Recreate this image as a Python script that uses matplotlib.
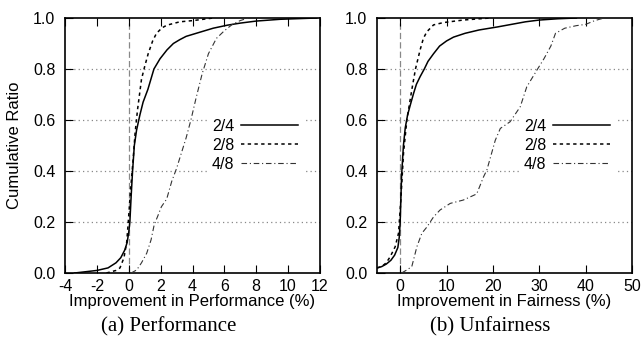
import matplotlib
matplotlib.use("Agg")
import matplotlib.pyplot as plt

plt.rcParams['font.family'] = ['Liberation Sans', 'DejaVu Sans']
plt.rcParams['axes.unicode_minus'] = False

# (a) Performance -- CDF points
perf_24_x = [-3.4, -2.0, -1.3, -0.8, -0.5, -0.25, -0.1, 0.0, 0.07, 0.15, 0.24, 0.35, 0.49, 0.7, 0.9, 1.2, 1.58, 1.96, 2.4, 2.8, 3.2, 3.6, 4.5, 5.3, 6.2, 7.0, 8.0, 9.5, 11.8]
perf_24_y = [0.0, 0.01, 0.02, 0.04, 0.06, 0.09, 0.12, 0.16, 0.2, 0.3, 0.4, 0.5, 0.56, 0.62, 0.67, 0.72, 0.8, 0.84, 0.875, 0.9, 0.915, 0.928, 0.945, 0.96, 0.972, 0.98, 0.988, 0.995, 1.0]
perf_28_x = [-1.4, -0.8, -0.55, -0.3, -0.13, -0.03, 0.12, 0.28, 0.4, 0.55, 0.8, 1.0, 1.22, 1.5, 1.74, 2.1, 2.4, 3.2, 4.05, 5.3]
perf_28_y = [0.0, 0.01, 0.02, 0.06, 0.12, 0.2, 0.33, 0.45, 0.55, 0.64, 0.76, 0.81, 0.86, 0.91, 0.94, 0.962, 0.972, 0.985, 0.99, 1.0]
perf_48_x = [0.15, 0.5, 0.8, 1.13, 1.4, 1.6, 1.8, 2.05, 2.38, 2.7, 3.0, 3.3, 3.6, 3.9, 4.2, 4.6, 5.0, 5.5, 6.0, 6.5, 7.0, 7.5]
perf_48_y = [0.0, 0.012, 0.04, 0.078, 0.13, 0.19, 0.22, 0.26, 0.29, 0.36, 0.41, 0.47, 0.53, 0.6, 0.68, 0.78, 0.86, 0.92, 0.95, 0.975, 0.99, 1.0]

# (b) Unfairness
fair_24_x = [-5.0, -4.0, -3.0, -2.0, -1.2, -0.5, -0.2, 0.0, 0.3, 0.7, 1.1, 1.6, 2.2, 2.9, 3.5, 4.3, 5.2, 6.0, 7.2, 8.5, 10.0, 11.5, 14.0, 17.0, 21.0, 24.0, 27.0, 30.0, 34.0, 38.0]
fair_24_y = [0.02, 0.025, 0.035, 0.05, 0.07, 0.1, 0.14, 0.2, 0.38, 0.5, 0.57, 0.62, 0.66, 0.705, 0.74, 0.77, 0.8, 0.83, 0.86, 0.89, 0.91, 0.925, 0.94, 0.953, 0.965, 0.975, 0.985, 0.992, 0.997, 1.0]
fair_28_x = [-5.0, -4.0, -3.0, -2.15, -1.08, -0.36, 0.14, 0.72, 1.44, 2.5, 3.3, 4.3, 5.0, 5.75, 7.2, 9.3, 13.6, 19.4]
fair_28_y = [0.02, 0.025, 0.04, 0.064, 0.103, 0.156, 0.286, 0.47, 0.6, 0.718, 0.8, 0.875, 0.92, 0.946, 0.973, 0.982, 0.992, 1.0]
fair_48_x = [0.3, 1.44, 2.5, 3.0, 3.6, 4.68, 5.75, 7.2, 8.6, 10.8, 13.6, 16.5, 18.0, 18.7, 20.5, 21.6, 23.7, 25.9, 27.3, 29.5, 31.0, 32.5, 33.5, 35.5, 38.0, 40.0, 42.0, 44.0]
fair_48_y = [0.0, 0.012, 0.025, 0.06, 0.103, 0.156, 0.18, 0.22, 0.247, 0.273, 0.286, 0.31, 0.378, 0.404, 0.52, 0.567, 0.593, 0.652, 0.73, 0.796, 0.84, 0.89, 0.94, 0.96, 0.97, 0.975, 0.99, 1.0]

labels = ['2/4', '2/8', '4/8']
yticks = [0.0, 0.2, 0.4, 0.6, 0.8, 1.0]

fig = plt.figure(figsize=(6.43, 3.44), dpi=100)
ax1 = fig.add_axes([65 / 643, 71 / 344, 255 / 643, 255 / 344])
ax2 = fig.add_axes([377 / 643, 71 / 344, 255 / 643, 255 / 344])

styles = [dict(color='black', lw=1.1, linestyle='-'),
          dict(color='black', lw=1.1, linestyle=(0, (2.2, 2.2))),
          dict(color='#333333', lw=0.8, linestyle=(0, (5, 2.5, 1, 2.5)))]


def draw(ax, series, xlim, xticks, xlabel, sub, subx):
    for y in yticks[1:-1]:
        ax.axhline(y, color='#888888', lw=0.9, linestyle=(0, (1, 2.5)), zorder=1)
    ax.axvline(0, color='#888888', lw=0.9, linestyle=(0, (5, 2.5)), zorder=1)
    for (xs, ys), lab, st in zip(series, labels, styles):
        ax.plot(xs, ys, label=lab, zorder=3, **st)
    ax.set_xlim(*xlim)
    ax.set_ylim(0, 1)
    ax.set_xticks(xticks)
    ax.set_yticks(yticks)
    ax.set_yticklabels(['%.1f' % v for v in yticks])
    ax.tick_params(direction='in', length=6, width=0.8, top=True, right=False,
                   labelsize=11.5)
    ax.tick_params(axis='x', pad=4)
    ax.tick_params(axis='y', pad=7)
    for s in ax.spines.values():
        s.set_linewidth(1.2)
    ax.set_xlabel(xlabel, fontsize=12, labelpad=0)
    leg = ax.legend(loc='center', bbox_to_anchor=(0.745, 0.5), frameon=True,
                    fancybox=False, edgecolor='none', facecolor='white', framealpha=1,
                    markerfirst=False, handlelength=3.6, handletextpad=0.4,
                    labelspacing=0.25, fontsize=11.5, borderpad=0.3)
    leg.set_zorder(2)
    fig.text(subx, 1 - 327 / 344, sub, ha='center', va='center',
             fontsize=15, family='Liberation Serif')


draw(ax1, [(perf_24_x, perf_24_y), (perf_28_x, perf_28_y), (perf_48_x, perf_48_y)],
     (-4, 12), [-4, -2, 0, 2, 4, 6, 8, 10, 12], 'Improvement in Performance (%)',
     '(a) Performance', 169 / 643)
draw(ax2, [(fair_24_x, fair_24_y), (fair_28_x, fair_28_y), (fair_48_x, fair_48_y)],
     (-5, 50), [0, 10, 20, 30, 40, 50], 'Improvement in Fairness (%)',
     '(b) Unfairness', 490 / 643)
ax1.set_ylabel('Cumulative Ratio', fontsize=12)
ax1.yaxis.set_label_coords(-(65 - 22) / 255, 0.5)

fig.savefig('out.png', dpi=100)
